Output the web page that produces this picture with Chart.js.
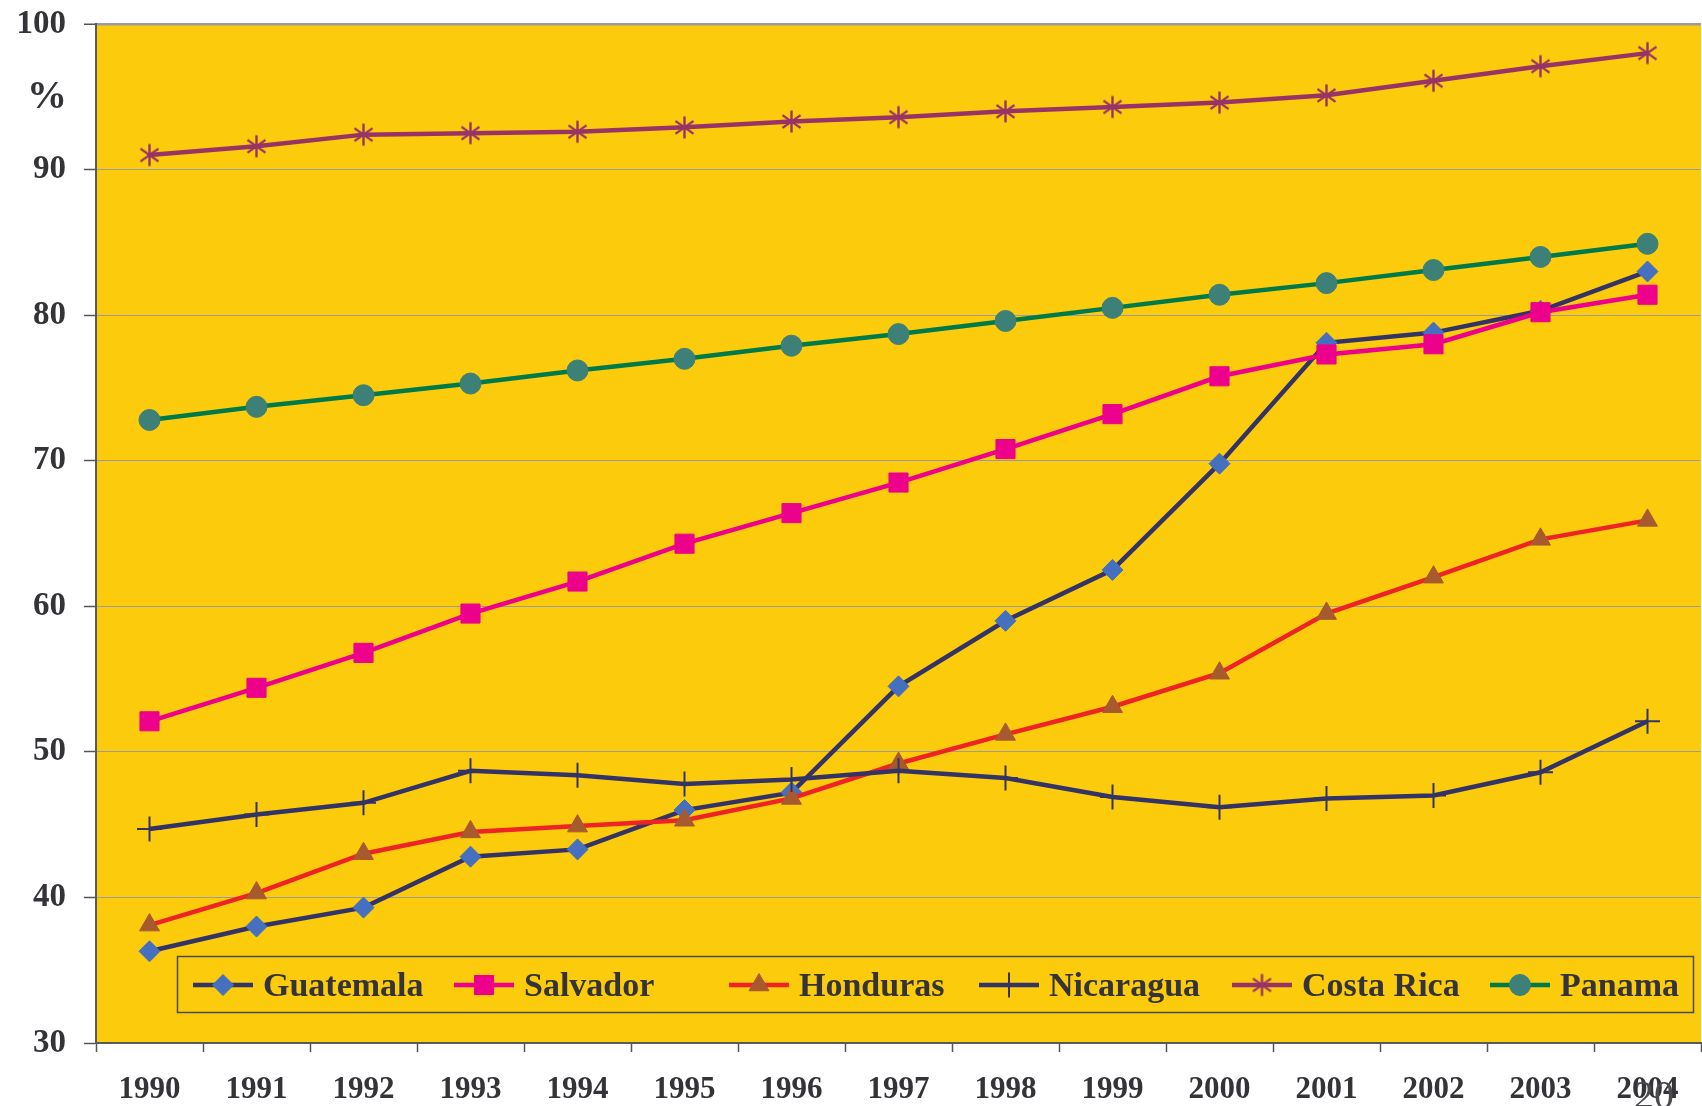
<!DOCTYPE html>
<html>
<head>
<meta charset="utf-8">
<title>Central America</title>
<script src="https://cdn.jsdelivr.net/npm/chart.js@4/dist/chart.umd.min.js"></script>
<style>
  html, body { margin: 0; padding: 0; background: #ffffff; }
  #wrap { width: 1702px; height: 1106px; }
</style>
</head>
<body>
<div id="wrap"><canvas id="chart" width="1702" height="1106"></canvas></div>
<script>
// ─── Data ────────────────────────────────────────────────────────
const years = ["1990", "1991", "1992", "1993", "1994", "1995", "1996", "1997",
               "1998", "1999", "2000", "2001", "2002", "2003", "2004"];
const yTicks = [30, 40, 50, 60, 70, 80, 90, 100];

const guatemala = [36.3, 38.0, 39.3, 42.8, 43.3, 46.0, 47.2, 54.5, 59.0, 62.5, 69.8, 78.1, 78.8, 80.3, 83.0];
const salvador  = [52.1, 54.4, 56.8, 59.5, 61.7, 64.3, 66.4, 68.5, 70.8, 73.2, 75.8, 77.3, 78.0, 80.2, 81.4];
const honduras  = [38.1, 40.3, 43.0, 44.5, 44.9, 45.3, 46.8, 49.2, 51.2, 53.1, 55.4, 59.5, 62.0, 64.6, 65.9];
const nicaragua = [44.7, 45.7, 46.5, 48.7, 48.4, 47.8, 48.1, 48.7, 48.2, 46.9, 46.2, 46.8, 47.0, 48.6, 52.1];
const costaRica = [91.0, 91.6, 92.4, 92.5, 92.6, 92.9, 93.3, 93.6, 94.0, 94.3, 94.6, 95.1, 96.1, 97.1, 98.0];
const panama    = [72.8, 73.7, 74.5, 75.3, 76.2, 77.0, 77.9, 78.7, 79.6, 80.5, 81.4, 82.2, 83.1, 84.0, 84.9];

const TEXT = "#333338";
const SERIF = "'Liberation Serif', 'Times New Roman', serif";

// six-armed asterisk marker (vertical stroke + X), like the office chart
function asterisk(color, r, lw) {
    const size = Math.ceil(2 * r + lw + 2);
    const c = document.createElement("canvas");
    c.width = size; c.height = size;
    const g = c.getContext("2d");
    const m = size / 2;
    const d = r * 0.82;
    g.strokeStyle = color;
    g.lineWidth = lw;
    g.beginPath();
    g.moveTo(m, m - r); g.lineTo(m, m + r);
    g.moveTo(m - d, m - r * 0.58); g.lineTo(m + d, m + r * 0.58);
    g.moveTo(m - d, m + r * 0.58); g.lineTo(m + d, m - r * 0.58);
    g.stroke();
    return c;
}

function series(label, data, line, marker, style, radius, bw) {
    return {
        label, data,
        borderColor: line,
        backgroundColor: line,
        borderWidth: 4.5,
        tension: 0,
        pointStyle: style,
        pointRadius: radius,
        pointHoverRadius: radius,
        pointBackgroundColor: marker,
        pointBorderColor: marker,
        pointBorderWidth: bw,
    };
}

const datasets = [
    series("Guatemala", guatemala, "#333366", "#4570C0", "rectRot", 10.5, 1),
    series("Salvador", salvador, "#EC008C", "#EC008C", "rect", 13.5, 1),
    series("Honduras", honduras, "#EE2326", "#A65A2E", "triangle", 11.5, 1),
    series("Nicaragua", nicaragua, "#333366", "#333366", "cross", 12.5, 2),
    series("Costa Rica", costaRica, "#993366", "#993366", asterisk("#993366", 11, 2.4), 11, 2),
    series("Panama", panama, "#007A48", "#3D8078", "circle", 10.5, 1),
];
// later series painted on top, like the original
datasets.forEach((ds, i) => { ds.order = datasets.length - i; });

// ─── Plugins ─────────────────────────────────────────────────────
const plotBackground = {
    id: "plotBackground",
    beforeDraw(chart) {
        const { ctx, chartArea: a } = chart;
        ctx.save();
        ctx.fillStyle = "#FCCB0C";
        ctx.fillRect(a.left, a.top, a.right - a.left, a.bottom - a.top);
        ctx.restore();
    }
};

const extraText = {
    id: "extraText",
    afterDraw(chart) {
        const ctx = chart.ctx;
        ctx.save();
        ctx.fillStyle = TEXT;
        ctx.font = "bold 40px " + SERIF;
        ctx.textAlign = "center";
        ctx.textBaseline = "middle";
        ctx.fillText("%", 47, 98);

        // stray slide number peeking in at the bottom right
        ctx.fillStyle = "#4a4a4f";
        ctx.font = "40px " + SERIF;
        ctx.textAlign = "left";
        ctx.textBaseline = "alphabetic";
        ctx.fillText("20", 1634, 1108);
        ctx.restore();
    }
};

const boxLegend = {
    id: "boxLegend",
    afterDatasetsDraw(chart) {
        const ctx = chart.ctx;
        const starts = [193, 454, 729, 979, 1232, 1490];
        const cy = 985;
        ctx.save();
        ctx.strokeStyle = "#4a4a4a";
        ctx.lineWidth = 1.5;
        ctx.strokeRect(177.5, 956.5, 1516, 56);

        chart.data.datasets.forEach((ds, i) => {
            const x0 = starts[i];
            ctx.strokeStyle = ds.borderColor;
            ctx.lineWidth = ds.borderWidth;
            ctx.beginPath();
            ctx.moveTo(x0, cy);
            ctx.lineTo(x0 + 60, cy);
            ctx.stroke();

            ctx.fillStyle = ds.pointBackgroundColor;
            ctx.strokeStyle = ds.pointBorderColor;
            ctx.lineWidth = ds.pointBorderWidth;
            Chart.helpers.drawPoint(ctx, {
                pointStyle: ds.pointStyle,
                radius: ds.pointRadius,
                borderWidth: ds.pointBorderWidth,
                rotation: 0
            }, x0 + 30, cy);

            ctx.fillStyle = TEXT;
            ctx.font = "bold 34px " + SERIF;
            ctx.textAlign = "left";
            ctx.textBaseline = "middle";
            ctx.fillText(ds.label, x0 + 70, cy + 2);
        });
        ctx.restore();
    }
};

// ─── Chart ───────────────────────────────────────────────────────
new Chart(document.getElementById("chart").getContext("2d"), {
    type: "line",
    data: { labels: years, datasets },
    plugins: [plotBackground, boxLegend, extraText],
    options: {
        responsive: false,
        animation: false,
        layout: { autoPadding: false, padding: { top: 24, right: 1, left: 0, bottom: 0 } },
        plugins: {
            legend: { display: false },
            tooltip: { enabled: false },
        },
        scales: {
            x: {
                offset: true,
                afterFit: s => {
                    s.height = 63;
                    s.paddingLeft = 0;
                    s.paddingRight = 0;
                },
                grid: {
                    offset: true,
                    drawOnChartArea: false,
                    drawTicks: true,
                    tickLength: 9,
                    tickColor: "#555555",
                    tickWidth: 1.5,
                },
                border: { display: true, color: "#5a5a5a", width: 2 },
                ticks: {
                    color: TEXT,
                    padding: 19,
                    maxRotation: 0,
                    autoSkip: false,
                    font: { family: SERIF, size: 31, weight: "bold" },
                },
            },
            y: {
                min: yTicks[0],
                max: yTicks[yTicks.length - 1],
                afterFit: s => {
                    s.width = 96;
                    s.paddingTop = 0;
                    s.paddingBottom = 0;
                },
                afterBuildTicks: s => { s.ticks = yTicks.map(v => ({ value: v })); },
                grid: {
                    color: "#9c9c9c",
                    lineWidth: c => c.tick && c.tick.value === 100 ? 2.5 : 1,
                    drawTicks: true,
                    tickLength: 12,
                    tickColor: "#555555",
                    tickWidth: 1.5,
                },
                border: { display: true, color: "#5a5a5a", width: 2 },
                ticks: {
                    color: TEXT,
                    padding: 18,
                    font: { family: SERIF, size: 33, weight: "bold" },
                },
            },
        },
    },
});
</script>
</body>
</html>
